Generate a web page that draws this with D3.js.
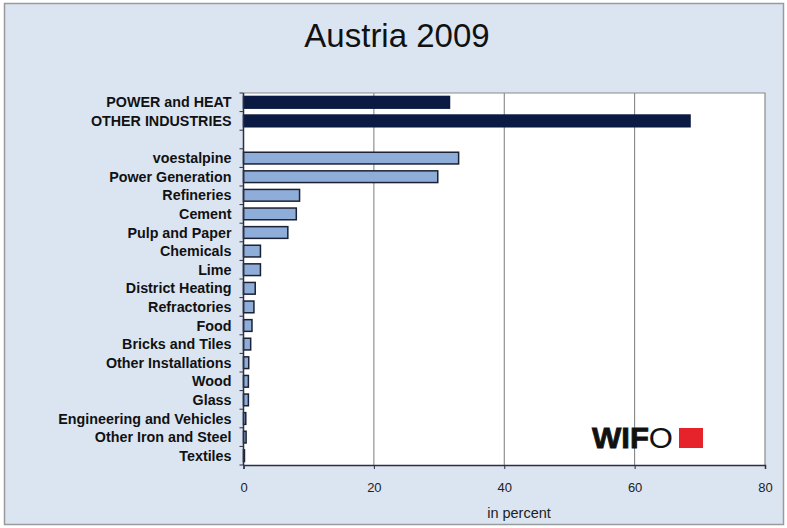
<!DOCTYPE html>
<html>
<head>
<meta charset="utf-8">
<script src="https://cdn.jsdelivr.net/npm/d3@7/dist/d3.min.js"></script>
<style>
  html, body { margin: 0; padding: 0; background: #ffffff; }
  svg { display: block; font-family: "Liberation Sans", Arial, sans-serif; }
</style>
</head>
<body>
<svg id="chart" width="787" height="528"></svg>
<script>
// Sectors, top to bottom; the empty entry is a spacer row between the two groups
const categories = [
  "POWER and HEAT", "OTHER INDUSTRIES", "",
  "voestalpine", "Power Generation", "Refineries", "Cement", "Pulp and Paper",
  "Chemicals", "Lime", "District Heating", "Refractories", "Food",
  "Bricks and Tiles", "Other Installations", "Wood", "Glass",
  "Engineering and Vehicles", "Other Iron and Steel", "Textiles"
];
// Share of emissions, in percent
const values = [
  31.6, 68.5, null,
  33.0, 29.8, 8.6, 8.1, 6.8,
  2.6, 2.6, 1.8, 1.6, 1.3,
  1.1, 0.8, 0.75, 0.75,
  0.35, 0.4, 0.15
];
// Aggregate rows get the dark fill
const groupRow = [true, true, false, false, false, false, false, false, false, false,
  false, false, false, false, false, false, false, false, false, false];
const xTicks = [0, 20, 40, 60, 80];
const title = "Austria 2009";
const xLabel = "in percent";

const svg = d3.select("#chart");
const W = 787, H = 528;
const m = { left: 243.5, right: 765, top: 93, bottom: 465 };

// Page background and frame
svg.append("rect").attr("x", 0).attr("y", 0).attr("width", W).attr("height", H).attr("fill", "#ffffff");
svg.append("rect").attr("x", 4.5).attr("y", 3.5).attr("width", W - 8).attr("height", H - 7)
  .attr("fill", "#dbe5f1").attr("stroke", "#9a9a9a").attr("stroke-width", 1.5);

svg.append("text").attr("x", 397).attr("y", 47).attr("text-anchor", "middle")
  .attr("font-size", 33).attr("fill", "#111").text(title);

const x = d3.scaleLinear().domain([0, 80]).range([m.left, m.right]);
const y = d3.scaleBand().domain(d3.range(categories.length)).range([m.top, m.bottom]).paddingInner(0.37).paddingOuter(0.185);

// Plot area
svg.append("rect").attr("x", m.left).attr("y", m.top).attr("width", m.right - m.left).attr("height", m.bottom - m.top)
  .attr("fill", "#ffffff");

// Vertical gridlines
svg.append("g").selectAll("line").data(xTicks.filter(t => t > 0 && t < 80)).join("line")
  .attr("x1", d => x(d)).attr("x2", d => x(d)).attr("y1", m.top).attr("y2", m.bottom)
  .attr("stroke", "#7a7a7a").attr("stroke-width", 1);

// Top and right borders
svg.append("path").attr("d", `M${m.left},${m.top}H${m.right}V${m.bottom}`)
  .attr("fill", "none").attr("stroke", "#8a8a8a").attr("stroke-width", 1.2);

// Bars
svg.append("g").selectAll("rect").data(categories.map((c, i) => ({ c, i, v: values[i], g: groupRow[i] })).filter(d => d.v != null))
  .join("rect")
  .attr("x", x(0)).attr("y", d => y(d.i))
  .attr("width", d => x(d.v) - x(0)).attr("height", y.bandwidth())
  .attr("fill", d => d.g ? "#0b1a42" : "#8fadd9")
  .attr("stroke", d => d.g ? "#0b1a42" : "#1b2233").attr("stroke-width", 1.5);

// Category axis with tick marks at band boundaries
const yAxis = svg.append("g");
yAxis.append("line").attr("x1", m.left).attr("x2", m.left).attr("y1", m.top).attr("y2", m.bottom)
  .attr("stroke", "#2a2f45").attr("stroke-width", 1.5);
yAxis.selectAll("line.tk").data(d3.range(categories.length + 1)).join("line").attr("class", "tk")
  .attr("x1", m.left - 4).attr("x2", m.left)
  .attr("y1", i => m.top + i * (m.bottom - m.top) / categories.length)
  .attr("y2", i => m.top + i * (m.bottom - m.top) / categories.length)
  .attr("stroke", "#2a2f45").attr("stroke-width", 1);
yAxis.selectAll("text").data(categories.map((c, i) => ({ c, i }))).join("text")
  .attr("x", m.left - 12).attr("y", d => y(d.i) + y.bandwidth() / 2)
  .attr("dy", "0.36em").attr("text-anchor", "end")
  .attr("font-size", 14.3).attr("font-weight", "bold").attr("fill", "#111")
  .text(d => d.c);

// Value axis
const xAxis = svg.append("g").attr("transform", `translate(0,${m.bottom})`)
  .call(d3.axisBottom(x).tickValues(xTicks).tickSize(4).tickPadding(14));
xAxis.select(".domain").attr("stroke", "#2a2f45").attr("stroke-width", 1.5);
xAxis.selectAll(".tick line").attr("stroke", "#2a2f45");
xAxis.selectAll(".tick text").attr("font-size", 13).attr("fill", "#222")
  .attr("font-family", "\"Liberation Sans\", Arial, sans-serif");

svg.append("text").attr("x", 519).attr("y", 518).attr("text-anchor", "middle")
  .attr("font-size", 14.5).attr("fill", "#222").text(xLabel);

// WIFO mark
const logo = svg.append("text").attr("x", 592).attr("y", 448).attr("font-size", 29).attr("fill", "#111")
  .attr("font-family", "\"Liberation Sans\", Arial, sans-serif")
  .attr("textLength", 81).attr("lengthAdjust", "spacingAndGlyphs");
logo.append("tspan").attr("font-weight", "900").attr("stroke", "#111").attr("stroke-width", 0.8).text("WIF");
logo.append("tspan").attr("font-weight", "normal").text("O");
svg.append("rect").attr("x", 679).attr("y", 428).attr("width", 24).attr("height", 20).attr("fill", "#e6232b");
</script>
</body>
</html>
